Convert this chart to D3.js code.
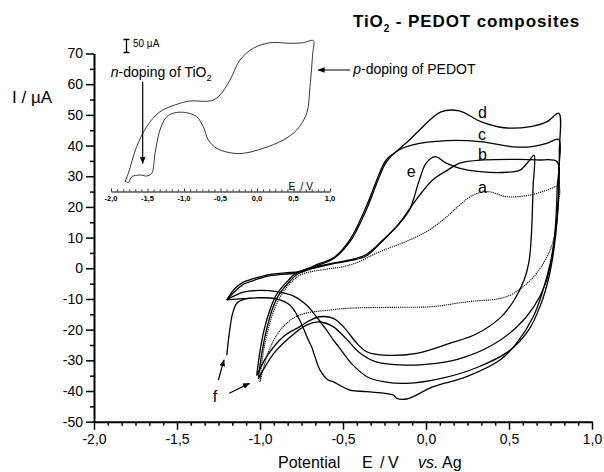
<!DOCTYPE html>
<html>
  <head>
    <meta http-equiv="Content-Type" content="text/html; charset=UTF-8" />
    <title>TiO2 - PEDOT composites</title>
    <style>
      body { margin: 0; background: #fff; }
      svg { display: block; font-family: "Liberation Sans", Arial, sans-serif; }
      .axis path, .axis line { stroke: #000; }
      .axis text { fill: #000; }
    </style>
  </head>
  <body>
    <div id="chart"></div>
    <script src="https://cdnjs.cloudflare.com/ajax/libs/d3/7.8.5/d3.min.js"></script>
    <script>
// main voltammograms, [E / V, I / µA]
const curveA = [[-1.0,-37],[-0.985,-29],[-0.96,-22],[-0.925,-15],[-0.88,-9.5],[-0.82,-5],[-0.75,-2],[-0.6,-0.3],[-0.5,0.5],[-0.4,2.2],[-0.3,4.9],[-0.1,9.2],[0.02,12.5],[0.125,16.8],[0.2,20.5],[0.285,23.9],[0.37,25],[0.49,23.3],[0.63,23.9],[0.73,25.5],[0.8,26.6],
  [0.795,20],[0.78,12],[0.74,5],[0.65,-2.7],[0.53,-8.1],[0.45,-9.8],[0.25,-10.9],[0.04,-12.5],[-0.16,-12.7],[-0.46,-13],[-0.58,-13.6],[-0.76,-15.2],[-0.86,-19],[-0.94,-26],[-1.0,-37]];
const curveB = [[-1.01,-36],[-0.99,-28],[-0.965,-21],[-0.93,-14],[-0.89,-9],[-0.83,-4.8],[-0.77,-1.8],[-0.68,0],[-0.55,1.6],[-0.45,2.6],[-0.36,4],[-0.26,9],[-0.16,14.7],[-0.06,22.3],[0.04,28.8],[0.13,32],[0.2,34.2],[0.35,35.3],[0.55,35.5],[0.67,35.3],[0.79,34.7],
  [0.79,26],[0.78,14],[0.76,4],[0.72,-5],[0.65,-12.5],[0.55,-19],[0.4,-25],[0.2,-29.5],[0.0,-31.3],[-0.157,-31.5],[-0.3,-30.5],[-0.4,-27.5],[-0.48,-23],[-0.56,-19],[-0.64,-17.5],[-0.72,-18.5],[-0.82,-22.5],[-0.92,-28],[-1.01,-36]];
const curveC = [[-1.2,-10.3],[-1.15,-7.5],[-1.1,-5.2],[-1.04,-4],[-0.96,-2.6],[-0.85,-1.9],[-0.76,-1.4],[-0.64,1.2],[-0.56,3],[-0.46,8.5],[-0.36,19],[-0.28,30],[-0.24,34.5],[-0.18,38],[-0.08,40.2],[0.125,41.6],[0.325,41.3],[0.526,39.6],[0.627,39.6],[0.727,40.7],[0.8,42],
  [0.8,32],[0.795,20],[0.775,8],[0.74,-3],[0.69,-12],[0.62,-20],[0.5,-27],[0.3,-32.5],[0.1,-35.8],[-0.116,-37.5],[-0.25,-37],[-0.35,-35.5],[-0.45,-31],[-0.52,-26],[-0.558,-23.4],[-0.6,-20.1],[-0.66,-15.8],[-0.72,-12],[-0.8,-9],[-0.9,-7.6],[-1.0,-7.2],[-1.1,-7.8],[-1.2,-10.3]];
const curveD = [[-1.2,-10.3],[-1.15,-6.5],[-1.1,-4.5],[-1.04,-3.4],[-0.96,-2.2],[-0.85,-1.5],[-0.76,-1.0],[-0.64,1.6],[-0.56,3.3],[-0.46,9.2],[-0.36,20.1],[-0.28,31],[-0.24,35.3],[-0.18,38],[-0.1,41.8],[-0.04,45],[0.09,51],[0.2,51.3],[0.33,47.8],[0.47,45.8],[0.63,46.2],[0.73,47.8],[0.8,50.5],
  [0.803,38],[0.8,24],[0.78,12],[0.75,2],[0.7,-8],[0.646,-15.8],[0.546,-24.4],[0.446,-29.9],[0.245,-35.3],[0.044,-38.6],[-0.116,-42.6],[-0.176,-42.4],[-0.197,-41.3],[-0.357,-40.2],[-0.458,-39.7],[-0.558,-37],[-0.589,-36.4],[-0.639,-33.1],[-0.669,-28.8],[-0.689,-25.6],[-0.709,-23.4],[-0.76,-17],[-0.82,-12],[-0.9,-10],[-1.0,-9.6],[-1.1,-9.9],[-1.2,-10.3]];
const curveE = [[-1.02,-35],[-1.0,-27],[-0.975,-20],[-0.94,-13.5],[-0.9,-8.5],[-0.84,-4.5],[-0.78,-1.5],[-0.7,0],[-0.55,1.8],[-0.45,2.8],[-0.36,4.5],[-0.26,9.2],[-0.17,14],[-0.1,19],[-0.04,28.8],[0.0,34.2],[0.054,36.4],[0.125,34.2],[0.205,32.6],[0.325,31.5],[0.486,31.3],[0.566,32],[0.616,34.7],[0.651,36.9],
  [0.645,26.6],[0.635,11],[0.62,2],[0.59,-4],[0.53,-10.5],[0.45,-16],[0.3,-21.5],[0.145,-24.4],[-0.056,-27.7],[-0.257,-28.3],[-0.357,-27.2],[-0.417,-24.4],[-0.498,-19],[-0.558,-16.3],[-0.639,-15.8],[-0.7,-17],[-0.76,-19],[-0.86,-22.3],[-0.96,-28.8],[-1.02,-35]];
// start of the scan at -1.2 V (arrow f)
const curveF = [[-1.2,-28.3],[-1.185,-21.2],[-1.165,-14.7],[-1.14,-11.4],[-1.1,-10.1],[-1.05,-9.7]];

const mainCurves = [
  {name: 'a', pts: curveA, dotted: true},
  {name: 'b', pts: curveB},
  {name: 'c', pts: curveC},
  {name: 'd', pts: curveD},
  {name: 'e', pts: curveE},
  {name: 'f', pts: curveF}
];
// curve letters, [E, I]
const curveLabels = [['d',0.313,49.0],['c',0.313,41.8],['b',0.313,35.3],['e',-0.116,29.9],['a',0.313,24.6],['f',-1.285,-43.5]];
const fArrows = [[[-1.251,-36.4],[-1.217,-29.9]],[[-1.185,-40.7],[-1.064,-37.5]]];

const xTicks = [-2.0,-1.5,-1.0,-0.5,0.0,0.5,1.0];
const yTicks = [-50,-40,-30,-20,-10,0,10,20,30,40,50,60,70];

// inset: full CV, [E / V, I / µA]
const insetCurve = [[-1.808,37.7],[-1.763,70],[-1.648,172.3],[-1.511,249.2],[-1.329,306.9],[-1.055,339.2],[-0.918,348.1],[-0.621,349.2],[-0.507,371.2],[-0.37,428.8],[-0.233,505.8],[-0.051,550.8],[0.178,572.3],[0.452,570],[0.634,572.3],[0.771,580],
  [0.763,531.5],[0.726,403],[0.681,300.8],[0.544,236.5],[0.36,198],[0.086,166.2],[-0.188,146.9],[-0.37,149.2],[-0.552,166.2],[-0.667,198],[-0.736,249.2],[-0.826,287.7],[-0.963,303],[-1.123,303],[-1.237,287.7],[-1.329,236.5],[-1.397,146.9],[-1.442,70],[-1.511,59.6],[-1.58,63],[-1.648,62.3],[-1.716,56.9],[-1.763,33.8],[-1.785,37.7],[-1.808,37.7]];
const insetTicks = [-2.0,-1.5,-1.0,-0.5,0.0,0.5,1.0];

const W = 604, H = 472;
const svg = d3.select('#chart').append('svg').attr('width', W).attr('height', H);

const x = d3.scaleLinear().domain([-2, 1]).range([94, 592]),
      y = d3.scaleLinear().domain([-50, 70]).range([421.7, 53.5]);
const fmt = d => d.toFixed(1).replace('.', ',');

const minorX = d3.range(-2, 1.0001, 0.5 / 6).filter(v => Math.abs(v * 2 - Math.round(v * 2)) > 1e-6);
const minorY = d3.range(-45, 70, 10);

// axes
svg.append('g').attr('class', 'axis').attr('transform', `translate(0,${y(-50)})`)
  .call(d3.axisBottom(x).tickValues(minorX).tickSize(4).tickSizeOuter(0).tickFormat(''))
  .call(g => g.select('.domain').remove())
  .selectAll('line').attr('stroke-width', 1.5);
svg.append('g').attr('class', 'axis').attr('transform', `translate(0,${y(-50)})`)
  .call(d3.axisBottom(x).tickValues(xTicks).tickSize(8).tickSizeOuter(0).tickPadding(4).tickFormat(fmt))
  .call(g => g.select('.domain').attr('stroke-width', 2))
  .call(g => g.selectAll('line').attr('stroke-width', 1.5))
  .call(g => g.selectAll('text').attr('font-size', 14).attr('font-family', null));
svg.append('g').attr('class', 'axis').attr('transform', `translate(${x(-2)},0)`)
  .call(d3.axisLeft(y).tickValues(minorY).tickSize(4).tickSizeOuter(0).tickFormat(''))
  .call(g => g.select('.domain').remove())
  .selectAll('line').attr('stroke-width', 1.5);
svg.append('g').attr('class', 'axis').attr('transform', `translate(${x(-2)},0)`)
  .call(d3.axisLeft(y).tickValues(yTicks).tickSize(8).tickSizeOuter(0).tickPadding(3).tickFormat(d => String(d)))
  .call(g => g.select('.domain').attr('stroke-width', 2))
  .call(g => g.selectAll('line').attr('stroke-width', 1.5))
  .call(g => g.selectAll('text').attr('font-size', 14).attr('font-family', null));

// axis titles
svg.append('text').attr('x', 12).attr('y', 103).attr('font-size', 17).text('I / µA');
const xt = svg.append('text').attr('y', 468).attr('font-size', 16);
xt.append('tspan').attr('x', 278).text('Potential');
xt.append('tspan').attr('x', 362).text('E');
xt.append('tspan').attr('x', 380).text('/');
xt.append('tspan').attr('x', 388).text('V');
xt.append('tspan').attr('x', 418).attr('font-style', 'italic').text('vs.');
xt.append('tspan').attr('x', 442).text('Ag');

// title
const title = svg.append('text').attr('x', 353).attr('y', 27).attr('font-size', 17)
  .attr('font-weight', 'bold').attr('letter-spacing', 0.9);
title.append('tspan').text('TiO');
title.append('tspan').attr('font-size', 10).attr('dy', 5).text('2');
title.append('tspan').attr('dy', -5).text(' - PEDOT composites');

// curves
const line = d3.line().x(d => x(d[0])).y(d => y(d[1])).curve(d3.curveCatmullRom.alpha(0.5));
svg.append('g').selectAll('path').data(mainCurves).enter().append('path')
  .attr('d', d => line(d.pts))
  .attr('fill', 'none')
  .attr('stroke', '#000')
  .attr('stroke-width', d => d.dotted ? 1.1 : 1.3)
  .attr('stroke-dasharray', d => d.dotted ? '1.2,0.9' : null);

svg.append('g').selectAll('text').data(curveLabels).enter().append('text')
  .attr('x', d => x(d[1])).attr('y', d => y(d[2]))
  .attr('font-size', 16)
  .text(d => d[0]);

// arrow heads
const defs = svg.append('defs');
defs.append('marker').attr('id', 'head').attr('viewBox', '0 0 10 10')
  .attr('refX', 9).attr('refY', 5).attr('markerWidth', 7).attr('markerHeight', 7)
  .attr('markerUnits', 'userSpaceOnUse').attr('orient', 'auto')
  .append('path').attr('d', 'M0,1 L10,5 L0,9 Z').attr('fill', '#000');

svg.append('g').selectAll('line').data(fArrows).enter().append('line')
  .attr('x1', d => x(d[0][0])).attr('y1', d => y(d[0][1]))
  .attr('x2', d => x(d[1][0])).attr('y2', d => y(d[1][1]))
  .attr('stroke', '#000').attr('stroke-width', 1.2)
  .attr('marker-end', 'url(#head)');

// inset
const ix = d3.scaleLinear().domain([-2, 1]).range([111, 330]),
      iy = d3.scaleLinear().domain([0, 50]).range([191.5, 178.5]);
const inset = svg.append('g');
inset.append('g').attr('class', 'axis').attr('transform', `translate(0,${iy(0)})`)
  .call(d3.axisTop(ix).tickValues(minorX).tickSize(2).tickSizeOuter(0).tickFormat(''))
  .call(g => g.select('.domain').remove())
  .selectAll('line').attr('stroke-width', 0.8);
inset.append('g').attr('class', 'axis').attr('transform', `translate(0,${iy(0)})`)
  .call(d3.axisTop(ix).tickValues(insetTicks).tickSize(3).tickSizeOuter(0).tickFormat(''))
  .call(g => g.select('.domain').attr('stroke-width', 1.2))
  .selectAll('line').attr('stroke-width', 0.8);
inset.append('g').selectAll('text').data(insetTicks).enter().append('text')
  .attr('x', d => ix(d)).attr('y', iy(0) + 9)
  .attr('text-anchor', 'middle').attr('font-size', 7.5).attr('font-weight', 'bold')
  .text(fmt);
inset.append('text').attr('x', ix(0.43)).attr('y', iy(0) - 1.5).attr('font-size', 10)
  .attr('xml:space', 'preserve').style('white-space', 'pre').text('E  / V');

const iline = d3.line().x(d => ix(d[0])).y(d => iy(d[1])).curve(d3.curveCatmullRom.alpha(0.5));
inset.append('path').attr('d', iline(insetCurve))
  .attr('fill', 'none').attr('stroke', '#222').attr('stroke-width', 0.9);

// 50 µA scale bar
const barE = -1.788, barTop = 584.6;
inset.append('path')
  .attr('d', `M${ix(barE) - 3},${iy(barTop)}H${ix(barE) + 3}M${ix(barE)},${iy(barTop)}V${iy(barTop - 50)}M${ix(barE) - 3},${iy(barTop - 50)}H${ix(barE) + 3}`)
  .attr('stroke', '#000').attr('stroke-width', 1.3).attr('fill', 'none');
inset.append('text').attr('x', ix(-1.699)).attr('y', iy(555.8)).attr('font-size', 10).text('50 µA');

// inset annotations
inset.append('line')
  .attr('x1', ix(-1.566)).attr('y1', iy(422.3)).attr('x2', ix(-1.566)).attr('y2', iy(108.5))
  .attr('stroke', '#000').attr('stroke-width', 1.2).attr('marker-end', 'url(#head)');
inset.append('line')
  .attr('x1', ix(1.274)).attr('y1', iy(467.3)).attr('x2', ix(0.84)).attr('y2', iy(467.3))
  .attr('stroke', '#000').attr('stroke-width', 1.2).attr('marker-end', 'url(#head)');

const nt = inset.append('text').attr('x', ix(-2.004)).attr('y', iy(439.2)).attr('font-size', 14);
nt.append('tspan').attr('font-style', 'italic').text('n');
nt.append('tspan').text('-doping of TiO');
nt.append('tspan').attr('font-size', 9).attr('dy', 4).text('2');

const pt = inset.append('text').attr('x', ix(1.319)).attr('y', iy(451.9)).attr('font-size', 14);
pt.append('tspan').attr('font-style', 'italic').text('p');
pt.append('tspan').text('-doping of PEDOT');
    </script>
  </body>
</html>
